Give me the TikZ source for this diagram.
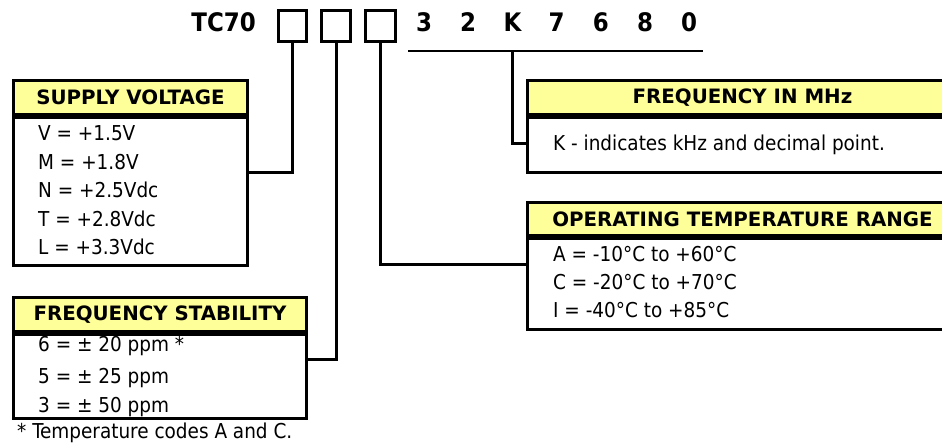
\documentclass[tikz,border=0pt]{standalone}
\usepackage{fontspec}
\setmainfont{DejaVu Sans Condensed}
\newfontfamily\hdrfont{DejaVu Sans}
\definecolor{hdryellow}{HTML}{FFFF99}
\begin{document}
\begin{tikzpicture}[x=1pt,y=-1pt,
  codebox/.style={draw,line width=3pt,minimum width=28pt,minimum height=31pt,inner sep=0pt,anchor=north west},
  hdr/.style={draw,line width=3pt,fill=hdryellow,inner sep=0pt,anchor=north west,font=\hdrfont\fontsize{19.8}{22}\selectfont\bfseries},
  body/.style={draw,line width=3pt,inner sep=0pt,anchor=north west},
  sep/.style={line width=5pt},
  conn/.style={line width=3pt},
  txt/.style={anchor=base west,inner sep=0pt,font=\fontsize{20.5}{24}\selectfont},
  big/.style={anchor=base,inner sep=0pt,font=\fontsize{25.5}{30}\selectfont\bfseries}]
\useasboundingbox (0,0) rectangle (942,444);
\clip (0,0) rectangle (942,444);
% title
\node[big,anchor=base east] (tc) at (256,32) {TC70};
\node[codebox] (b1) at (277,9) {};
\node[codebox,minimum width=29pt] (b2) at (320,9) {};
\node[codebox,minimum width=30pt] (b3) at (364,9) {};
\foreach \c [count=\i from 0] in {3,2,K,7,6,8,0} {
  \node[big] (d\i) at (424+44.2*\i,32) {\c};
}
\coordinate (ulL) at (408,51);
\coordinate (ulR) at (703,51);
\draw[line width=2.5pt] (ulL) -- (ulR);
% supply voltage
\node[body,minimum width=234pt,minimum height=185pt] (sv) at (12,79) {};
\node[hdr,minimum width=234pt,minimum height=34pt] (svh) at (12,79) {SUPPLY VOLTAGE};
\draw[sep] (svh.south west) -- (svh.south east);
\node[txt] (sv1) at (38,140.5) {V = +1.5V};
\node[txt] (sv2) at (38,169) {M = +1.8V};
\node[txt] (sv3) at (38,197.5) {N = +2.5Vdc};
\node[txt] (sv4) at (38,226) {T = +2.8Vdc};
\node[txt] (sv5) at (38,254.5) {L = +3.3Vdc};
% frequency stability
\node[body,minimum width=293pt,minimum height=121pt] (fs) at (12,296) {};
\node[hdr,minimum width=293pt,minimum height=34pt] (fsh) at (12,296) {FREQUENCY STABILITY};
\draw[sep] (fsh.south west) -- (fsh.south east);
\node[txt] (fs1) at (38,351.5) {6 = ± 20 ppm *};
\node[txt] (fs2) at (38,383.5) {5 = ± 25 ppm};
\node[txt] (fs3) at (38,412.5) {3 = ± 50 ppm};
\node[txt] (fn) at (17,438.5) {* Temperature codes A and C.};
% frequency in MHz
\node[body,minimum width=430pt,minimum height=92pt] (fm) at (526,79) {};
\node[hdr,minimum width=430pt,minimum height=34pt] (fmh) at (526,79) {FREQUENCY IN MHz};
\draw[sep] (fmh.south west) -- (fmh.south east);
\node[txt] (fm1) at (553,150.5) {K - indicates kHz and decimal point.};
% operating temperature
\node[body,minimum width=430pt,minimum height=127pt] (ot) at (526,201) {};
\node[hdr,minimum width=430pt,minimum height=33pt] (oth) at (526,201) {OPERATING TEMPERATURE RANGE};
\draw[sep] (oth.south west) -- (oth.south east);
\node[txt] (ot1) at (553,261.5) {A = -10°C to +60°C};
\node[txt] (ot2) at (553,289.5) {C = -20°C to +70°C};
\node[txt] (ot3) at (553,317.5) {I = -40°C to +85°C};
% connectors
\coordinate (y1) at (0,172);
\coordinate (y2) at (0,359);
\coordinate (y3) at (0,264);
\coordinate (y4) at (0,143);
\coordinate (kx) at (512,51);
\draw[conn] (b1.south) |- (sv.east |- y1);
\draw[conn] (b2.south) |- (fs.east |- y2);
\draw[conn] (b3.south) |- (ot.west |- y3);
\draw[conn] (kx) |- (fm.west |- y4);
\end{tikzpicture}
\end{document}
